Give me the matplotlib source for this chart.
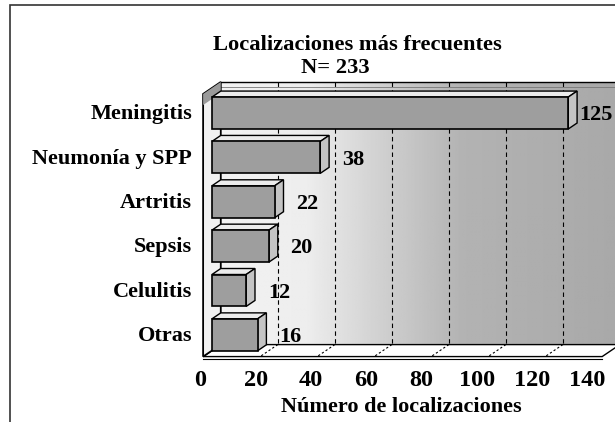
import numpy as np
import matplotlib.pyplot as plt
from matplotlib.patches import Polygon, Rectangle

categories = ['Meningitis', 'Neumonía y SPP', 'Artritis', 'Sepsis', 'Celulitis', 'Otras']
values = [125, 38, 22, 20, 12, 16]
xticks = [0, 20, 40, 60, 80, 100, 120, 140]

plt.rcParams['font.family'] = ['Liberation Serif', 'DejaVu Serif']
plt.rcParams['font.weight'] = 'bold'

fig = plt.figure(figsize=(6.15, 4.22), dpi=100)
W, H = 615, 422
# axes in pixel box: x 190..615, y 70..365 (top..bottom)
ax = fig.add_axes([190 / W, 1 - 365 / H, (615 - 190) / W, (365 - 70) / H])
ax.set_xlim(-7.7, 141.4)
ax.set_ylim(5.68, -0.97)
ax.axis('off')

dx, dy = 3.1, 0.135          # depth offset (half of the box depth)
xmax = xticks[-1]
ytop, ybot = -0.70, 5.22     # back wall top / bottom

# back wall with a light-to-grey gradient
grad_x = np.linspace(0, xmax, 300)
shade = np.interp(grad_x, [0, 30, 55, 85, 140], [0.95, 0.93, 0.82, 0.70, 0.66])
ax.imshow(shade[None, :], cmap='gray', vmin=0, vmax=1, aspect='auto',
          extent=(dx, xmax + dx, ybot, ytop), zorder=0)
ax.plot([dx, xmax + dx], [ytop, ytop], color='black', lw=1, zorder=1)
ax.plot([dx, xmax + dx], [ytop + 0.12, ytop + 0.12], color='#777777', lw=0.6, zorder=1)
ax.plot([dx, xmax + dx], [ybot, ybot], color='black', lw=1, zorder=1)

# grid lines on back wall and floor
for t in xticks[1:-1]:
    ax.plot([t + dx, t + dx], [ytop, ybot], color='black', lw=0.8, ls=(0, (4, 3)), zorder=1)
    ax.plot([t + dx, t - dx], [ybot, ybot + 2 * dy], color='black', lw=0.8, ls=(0, (2, 2)), zorder=2)

# floor
floor = Polygon([(-dx, ybot + 2 * dy), (dx, ybot), (xmax + dx, ybot), (xmax - dx, ybot + 2 * dy)],
                closed=True, facecolor='white', edgecolor='black', lw=1, zorder=1.5)
ax.add_patch(floor)
ax.plot([-dx, xmax - dx], [ybot + 2 * dy + 0.05, ybot + 2 * dy + 0.05], color='black', lw=0.8, zorder=2,
        clip_on=False)

# left wall
wall = Polygon([(-dx, ytop + 2 * dy), (dx, ytop), (dx, ybot), (-dx, ybot + 2 * dy)],
               closed=True, facecolor='#f2f2f2', edgecolor='black', lw=1.3, zorder=2)
ax.add_patch(wall)
ax.add_patch(Polygon([(-dx, ytop + 2 * dy), (dx, ytop), (dx, ytop + 0.25), (-dx, ytop + 2 * dy + 0.25)],
                     closed=True, facecolor='#9a9a9a', edgecolor='none', zorder=2.1))

# bars
h = 0.72
ypos = np.arange(len(categories))
ax.barh(ypos, values, height=h, color='#9e9e9e', edgecolor='black', lw=1.2, zorder=4)
for i, v in zip(ypos, values):
    top = i - h / 2
    bot = i + h / 2
    ax.add_patch(Polygon([(0, top), (dx, top - dy), (v + dx, top - dy), (v, top)],
                         closed=True, facecolor='#ececec', edgecolor='black', lw=1, zorder=3.5))
    ax.add_patch(Polygon([(v, top), (v + dx, top - dy), (v + dx, bot - dy), (v, bot)],
                         closed=True, facecolor='#c4c4c4', edgecolor='black', lw=1, zorder=3.5))
    off = 0.8 if v > 100 else 4.5
    ax.text(v + dx + off, i + 0.05, str(v), ha='left', va='center', fontsize=16,
            fontweight='bold', zorder=5, clip_on=False)
    ax.text(-dx - 3.9, i + 0.03, categories[i], ha='right', va='center', fontsize=16,
            fontweight='bold', clip_on=False)

# x tick labels below the front edge
for t in xticks:
    ax.text(t * 0.97 - 4, 6.02, str(t), ha='center', va='center', fontsize=17.5,
            fontweight='bold', clip_on=False)
ax.text(xmax / 2 - 3.5, 6.62, 'Número de localizaciones', ha='center', va='center',
        fontsize=16, fontweight='bold', clip_on=False)

fig.text(357 / W, 1 - 45 / H, 'Localizaciones más frecuentes', ha='center', va='center',
         fontsize=16.2, fontweight='bold')
fig.text(335 / W, 1 - 68 / H, 'N= 233', ha='center', va='center', fontsize=16.2, fontweight='bold')

# outer frame
fig.patches.append(Rectangle((10 / W, -0.05), 1.0, 1 - 5 / H + 0.05, transform=fig.transFigure,
                             fill=False, edgecolor='#333333', lw=1.2))

fig.savefig('out.png', dpi=100)
